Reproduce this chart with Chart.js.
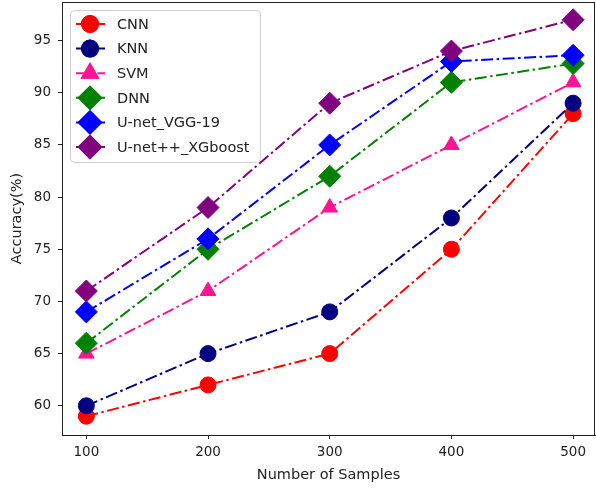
<!DOCTYPE html>
<html>
<head>
<meta charset="utf-8">
<script src="https://cdn.jsdelivr.net/npm/chart.js@4.4.1/dist/chart.umd.min.js"></script>
<style>
  html, body { margin: 0; padding: 0; background: #fff; }
  #wrap { width: 596px; height: 489px; }
</style>
</head>
<body>
<div id="wrap"><canvas id="chart"></canvas></div>
<script>
// data
const samples = [100, 200, 300, 400, 500];
const cnn = [59, 62, 65, 75, 88];
const knn = [60, 65, 69, 78, 89];
const svm = [65, 71, 79, 85, 91];
const dnn = [66, 75, 82, 91, 92.8];
const unetVgg = [69, 76, 85, 93, 93.6];
const unetXgb = [71, 79, 89, 94, 97];

const xTicks = [100, 200, 300, 400, 500];
const yTicks = [60, 65, 70, 75, 80, 85, 90, 95];

const series = [
    { label: 'CNN', data: cnn, color: '#ff0000', shape: 'circle', size: 8 },
    { label: 'KNN', data: knn, color: '#000080', shape: 'circle', size: 8 },
    { label: 'SVM', data: svm, color: '#ff1493', shape: 'triangle', size: 9 },
    { label: 'DNN', data: dnn, color: '#008000', shape: 'rectRot', size: 11 },
    { label: 'U-net_VGG-19', data: unetVgg, color: '#0000ff', shape: 'rectRot', size: 11 },
    { label: 'U-net++_XGboost', data: unetXgb, color: '#800080', shape: 'rectRot', size: 11 }
];

const dash = [12, 3.5, 2.5, 3.5];
const font = 'DejaVu Sans';

// legend drawn inside the plot area, like matplotlib's upper left
const insideLegend = {
    id: 'insideLegend',
    afterDatasetsDraw(chart) {
        const ctx = chart.ctx;
        const area = chart.chartArea;
        const x0 = area.left + 8, y0 = area.top + 8;
        const w = 190, h = 152;
        ctx.save();
        ctx.fillStyle = 'rgba(255,255,255,0.8)';
        ctx.strokeStyle = '#d0d0d0';
        ctx.lineWidth = 1;
        ctx.beginPath();
        ctx.roundRect(x0 + 0.5, y0 + 0.5, w, h, 4);
        ctx.fill();
        ctx.stroke();
        ctx.font = '14.5px "' + font + '"';
        ctx.textBaseline = 'middle';
        series.forEach((s, i) => {
            const cy = y0 + 14 + i * 24.6;
            ctx.strokeStyle = s.color;
            ctx.lineWidth = 2;
            ctx.setLineDash(dash);
            ctx.beginPath();
            ctx.moveTo(x0 + 6, cy);
            ctx.lineTo(x0 + 35, cy);
            ctx.stroke();
            ctx.setLineDash([]);
            ctx.fillStyle = s.color;
            Chart.helpers.drawPoint(ctx, { pointStyle: s.shape, radius: s.size, borderWidth: 1 }, x0 + 20, cy);
            ctx.fill();
            ctx.stroke();
            ctx.fillStyle = '#222';
            ctx.fillText(s.label, x0 + 47, cy + 1);
        });
        ctx.restore();
    }
};

// full box around the plot
const frame = {
    id: 'frame',
    afterDraw(chart) {
        const a = chart.chartArea;
        const ctx = chart.ctx;
        ctx.save();
        ctx.strokeStyle = '#222';
        ctx.lineWidth = 1;
        ctx.strokeRect(Math.round(a.left) + 0.5, Math.round(a.top) + 0.5,
            Math.round(a.right - a.left) - 1, Math.round(a.bottom - a.top));
        ctx.restore();
    }
};

new Chart(document.getElementById('chart'), {
    type: 'line',
    data: {
        datasets: series.map((s, i) => ({
            label: s.label,
            data: samples.map((x, j) => ({ x: x, y: s.data[j] })),
            borderColor: s.color,
            backgroundColor: s.color,
            borderWidth: 2,
            borderDash: dash,
            pointStyle: s.shape,
            pointRadius: s.size,
            pointBorderWidth: 1,
            pointBorderColor: s.color,
            pointBackgroundColor: s.color,
            fill: false,
            tension: 0,
            clip: false,
            order: series.length - i
        }))
    },
    options: {
        responsive: true,
        maintainAspectRatio: false,
        animation: false,
        layout: { autoPadding: false, padding: { top: 2, right: 1, left: 0, bottom: 0 } },
        plugins: {
            legend: { display: false },
            tooltip: { enabled: false }
        },
        scales: {
            x: {
                type: 'linear',
                min: 80,
                max: 518,
                afterBuildTicks: axis => { axis.ticks = xTicks.map(v => ({ value: v })); },
                afterFit: axis => { axis.height = 54; axis.paddingLeft = 0; axis.paddingRight = 0; },
                grid: { drawOnChartArea: false, drawTicks: true, tickLength: 4, color: '#222' },
                border: { display: true, color: '#222' },
                ticks: { color: '#222', padding: 5, maxRotation: 0, font: { family: font, size: 13.5 } },
                title: { display: true, text: 'Number of Samples', color: '#222', padding: { top: 0, bottom: 5 }, font: { family: font, size: 14.5 } }
            },
            y: {
                min: 57.2,
                max: 98.7,
                afterBuildTicks: axis => { axis.ticks = yTicks.map(v => ({ value: v })); },
                afterFit: axis => { axis.width = 62; axis.paddingTop = 0; axis.paddingBottom = 0; },
                grid: { drawOnChartArea: false, drawTicks: true, tickLength: 4, color: '#222' },
                border: { display: true, color: '#222' },
                ticks: { color: '#222', padding: 7, font: { family: font, size: 13.5 } },
                title: { display: true, text: 'Accuracy(%)', color: '#222', padding: { top: 9, bottom: 0 }, font: { family: font, size: 14.5 } }
            }
        }
    },
    plugins: [insideLegend, frame]
});
</script>
</body>
</html>
